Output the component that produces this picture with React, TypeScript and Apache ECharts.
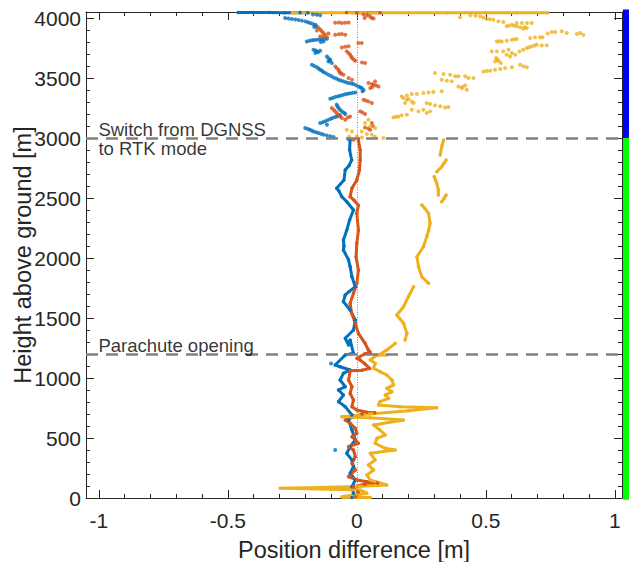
import React, { useEffect, useRef } from 'react';
import * as echarts from 'echarts';

// ---------- axes ----------
const X_MIN = -1.05;
const X_MAX = 1.028;
const Y_MIN = 0;
const Y_MAX = 4050;
const X_TICKS = [-1, -0.5, 0, 0.5, 1];
const X_MINOR = [-0.9, -0.8, -0.7, -0.6, -0.4, -0.3, -0.2, -0.1, 0.1, 0.2, 0.3, 0.4, 0.6, 0.7, 0.8, 0.9];
const Y_TICKS = [0, 500, 1000, 1500, 2000, 2500, 3000, 3500, 4000];
const Y_MINOR = [100, 200, 300, 400, 600, 700, 800, 900, 1100, 1200, 1300, 1400, 1600, 1700, 1800, 1900,
  2100, 2200, 2300, 2400, 2600, 2700, 2800, 2900, 3100, 3200, 3300, 3400, 3600, 3700, 3800, 3900];

// ---------- events / mode bar ----------
const EVENT_HEIGHTS = [3000, 1200];
const EVENT_LABELS = ['Switch from DGNSS\nto RTK mode', 'Parachute opening'];
const MODE_BOUNDS = [[3000, 4070], [-15, 3000]]; // DGNSS, RTK

// ---------- series: dense trails (segments) [x, height] ----------
const BLUE_TRAIL: number[][][] = [
  [[-0.46, 4046], [-0.40, 4045], [-0.34, 4046], [-0.28, 4044], [-0.22, 4045], [-0.19, 4043]],
  [[-0.032, 2990], [-0.026, 2983], [-0.028, 2900], [-0.02, 2817], [-0.03, 2770], [-0.045, 2733], [-0.05, 2650],
   [-0.078, 2581], [-0.07, 2560], [-0.058, 2511], [-0.039, 2469], [-0.013, 2400], [-0.028, 2317], [-0.039, 2233],
   [-0.052, 2150], [-0.05, 2100], [-0.052, 2067], [-0.032, 1983], [-0.026, 1928], [-0.019, 1844], [-0.006, 1761],
   [-0.03, 1720], [-0.045, 1692], [-0.052, 1636], [-0.026, 1567], [-0.006, 1483], [-0.013, 1400], [-0.045, 1331],
   [-0.032, 1275], [-0.026, 1317], [-0.013, 1206], [-0.045, 1192], [-0.084, 1108], [-0.065, 1094], [-0.026, 1067],
   [-0.052, 1039], [-0.065, 983], [-0.045, 928], [-0.071, 900], [-0.052, 858], [-0.071, 803], [-0.045, 761],
   [-0.019, 692], [-0.032, 650], [-0.019, 567], [-0.006, 483], [-0.026, 428], [-0.039, 372], [-0.019, 317],
   [-0.013, 261], [-0.026, 206], [-0.006, 150], [-0.019, 94], [-0.013, 39], [-0.019, 5]],
];
const RED_TRAIL: number[][][] = [
  [[-0.04, 4045], [0.0, 4044], [0.05, 4045], [0.09, 4044]],
  [[0.006, 2995], [0.006, 2983], [0.013, 2900], [0.013, 2817], [0.01, 2733], [0.0, 2650], [-0.019, 2581],
   [-0.026, 2511], [-0.01, 2480], [0.006, 2440], [0.0, 2372], [0.006, 2233], [0.0, 2122], [-0.003, 2011],
   [0.006, 1900], [0.0, 1789], [-0.013, 1706], [-0.026, 1622], [-0.02, 1540], [-0.006, 1456], [0.006, 1372],
   [0.032, 1289], [0.045, 1233], [0.052, 1215], [0.03, 1200], [0.0, 1164], [0.013, 1150], [0.03, 1120],
   [0.05, 1080], [0.02, 1065], [-0.026, 1060], [-0.032, 983], [-0.019, 928], [-0.026, 872], [-0.013, 817],
   [-0.019, 761], [0.0, 733], [0.039, 715], [0.07, 710], [0.02, 700], [-0.045, 650], [-0.026, 622], [-0.006, 581],
   [0.0, 539], [-0.019, 511], [-0.006, 483], [0.006, 456], [-0.032, 428], [-0.013, 400], [-0.006, 344],
   [-0.019, 289], [-0.006, 233], [-0.032, 178], [0.0, 150], [0.039, 136], [0.08, 125], [0.03, 115], [-0.013, 94],
   [0.006, 53], [-0.006, 11]],
];
const YELLOW_TRAIL: number[][][] = [
  [[-0.25, 4043], [-0.1, 4044], [0.05, 4043], [0.2, 4044], [0.35, 4043], [0.5, 4044], [0.62, 4043], [0.74, 4044]],
  [[0.336, 2983], [0.332, 2950], [0.329, 2928], [0.323, 2858]],
  [[0.346, 2817], [0.338, 2790], [0.329, 2761], [0.31, 2719]],
  [[0.3, 2678], [0.305, 2650], [0.31, 2622], [0.316, 2567], [0.316, 2525]],
  [[0.346, 2525], [0.338, 2495], [0.329, 2469]],
  [[0.252, 2442], [0.265, 2410], [0.278, 2372], [0.284, 2289], [0.278, 2230], [0.271, 2178], [0.258, 2094],
   [0.233, 2011], [0.239, 1928], [0.252, 1844], [0.278, 1789]],
  [[0.22, 1760], [0.2, 1678], [0.181, 1594], [0.155, 1525], [0.181, 1456], [0.194, 1372], [0.187, 1317]],
  [[0.149, 1289], [0.116, 1233], [0.084, 1192], [0.116, 1192], [0.078, 1192], [0.052, 1150], [0.071, 1122],
   [0.065, 1081], [0.09, 1053], [0.116, 1025], [0.136, 983], [0.142, 942], [0.116, 914], [0.136, 886],
   [0.11, 858], [0.123, 831], [0.09, 803], [0.084, 775], [0.168, 761], [0.31, 752], [0.2, 728], [0.05, 700],
   [-0.058, 678], [0.05, 668], [0.181, 650], [0.065, 608], [0.09, 567], [0.11, 525], [0.078, 497],
   [0.071, 456], [0.11, 414], [0.149, 400], [0.052, 372], [0.071, 317], [0.045, 275], [0.065, 233],
   [0.039, 192], [0.052, 150], [0.116, 108], [0.0, 95], [-0.15, 88], [-0.297, 81], [-0.1, 72], [0.013, 67],
   [0.039, 39], [-0.058, 11], [0.052, 5], [-0.05, 2]],
];

// ---------- series: sparse points above 3000 m [x, height] ----------
const BLUE_DOTS = [
  [-0.278, 4000], [-0.265, 3996], [-0.252, 3991], [-0.239, 3987], [-0.226, 3983], [-0.213, 3978], [-0.2, 3972],
  [-0.19, 3965], [-0.181, 3958], [-0.171, 3951], [-0.161, 3944], [-0.155, 3930], [-0.165, 3925],
  [-0.155, 4027], [-0.142, 4022], [-0.17, 4030],
  [-0.194, 3805], [-0.184, 3810], [-0.174, 3814], [-0.165, 3816], [-0.155, 3819], [-0.145, 3822], [-0.136, 3825],
  [-0.126, 3826], [-0.116, 3827], [-0.129, 3805], [-0.14, 3800],
  [-0.168, 3736], [-0.16, 3730], [-0.155, 3722], [-0.142, 3727], [-0.161, 3708], [-0.15, 3715],
  [-0.116, 3680], [-0.11, 3665], [-0.103, 3652], [-0.11, 3638], [-0.097, 3625], [-0.105, 3645],
  [-0.174, 3611], [-0.165, 3600], [-0.155, 3589], [-0.148, 3580], [-0.142, 3569], [-0.135, 3560], [-0.129, 3550],
  [-0.12, 3540], [-0.11, 3527], [-0.1, 3516], [-0.09, 3505], [-0.08, 3495], [-0.071, 3486], [-0.062, 3479],
  [-0.052, 3472], [-0.042, 3465], [-0.032, 3458], [-0.022, 3454], [-0.013, 3450], [-0.003, 3440], [0.006, 3430],
  [0.013, 3422], [0.019, 3416], [0.026, 3400], [0.022, 3389],
  [-0.103, 3327], [-0.094, 3334], [-0.084, 3341], [-0.074, 3347], [-0.065, 3352], [-0.055, 3358], [-0.045, 3364],
  [-0.035, 3368], [-0.026, 3372], [-0.016, 3376], [-0.006, 3380],
  [-0.078, 3278], [-0.075, 3264], [-0.071, 3250], [-0.065, 3236], [-0.058, 3222], [-0.05, 3210], [-0.045, 3200],
  [-0.142, 3125], [-0.132, 3132], [-0.123, 3139], [-0.113, 3149], [-0.103, 3158], [-0.094, 3166], [-0.084, 3175],
  [-0.075, 3182], [-0.065, 3189], [-0.116, 3111],
  [-0.2, 3083], [-0.19, 3076], [-0.183, 3069], [-0.175, 3062], [-0.168, 3055], [-0.158, 3048], [-0.149, 3041],
  [-0.139, 3035], [-0.129, 3028], [-0.116, 3021], [-0.103, 3014], [-0.09, 3008],
  [-0.084, 400], [-0.1, 1120],
];
const RED_DOTS = [
  [0.026, 4030], [0.04, 4020], [0.052, 4010], [0.058, 4000], [0.065, 3995], [0.045, 4035], [0.03, 4000],
  [-0.084, 3960], [-0.07, 3962], [-0.058, 3958], [-0.045, 3960], [-0.032, 3963],
  [-0.149, 3916], [-0.142, 3905], [-0.136, 3889], [-0.13, 3875], [-0.123, 3861], [-0.116, 3839], [-0.142, 3847],
  [-0.13, 3850], [-0.155, 3895], [-0.11, 3870],
  [-0.084, 3861], [-0.07, 3864], [-0.058, 3866], [-0.045, 3861],
  [-0.058, 3755], [-0.045, 3760], [-0.032, 3764], [0.006, 3792], [0.019, 3792],
  [-0.039, 3722], [-0.032, 3708], [-0.026, 3694], [-0.022, 3680], [-0.019, 3666], [-0.012, 3655], [-0.006, 3644],
  [0.032, 3625], [0.02, 3630],
  [-0.084, 3597], [-0.078, 3583], [-0.071, 3569], [-0.068, 3555], [-0.065, 3541], [-0.052, 3527], [-0.06, 3535],
  [-0.032, 3500], [-0.019, 3486],
  [0.045, 3458], [0.058, 3450], [0.065, 3444], [0.075, 3437], [0.084, 3430], [0.052, 3416], [0.071, 3472], [0.06, 3425],
  [0.026, 3319], [0.035, 3312], [0.045, 3305], [0.058, 3291],
  [-0.097, 3250], [-0.09, 3236], [-0.084, 3222], [-0.078, 3208], [-0.071, 3194], [-0.065, 3180], [-0.058, 3166],
  [-0.045, 3152], [-0.026, 3180], [-0.035, 3170],
  [0.013, 3222], [0.022, 3212], [0.032, 3200],
  [0.032, 3088], [0.045, 3078], [0.052, 3069], [0.058, 3125], [0.062, 3100],
  [-0.013, 2986],
];
const YELLOW_DOTS = [
  [0.40, 4006], [0.44, 4022], [0.46, 4018], [0.478, 4014], [0.49, 4004], [0.503, 3994], [0.515, 3990], [0.529, 3986],
  [0.549, 3972], [0.568, 3967],
  [0.581, 3931], [0.59, 3938], [0.601, 3944], [0.61, 3935], [0.62, 3931], [0.633, 3922], [0.646, 3911], [0.659, 3917],
  [0.678, 3958], [0.62, 3958], [0.64, 3958], [0.66, 3958], [0.65, 3925],
  [0.756, 3883], [0.769, 3883], [0.795, 3889], [0.814, 3875], [0.853, 3866], [0.866, 3875], [0.878, 3861], [0.74, 3870],
  [0.543, 3805], [0.552, 3806], [0.562, 3805], [0.581, 3811], [0.601, 3819], [0.61, 3822], [0.62, 3825],
  [0.659, 3750], [0.668, 3757], [0.678, 3764], [0.69, 3770], [0.698, 3778], [0.717, 3772], [0.736, 3772],
  [0.672, 3833], [0.691, 3839], [0.71, 3839], [0.72, 3839],
  [0.523, 3722], [0.543, 3722], [0.568, 3722], [0.588, 3736], [0.601, 3708], [0.614, 3694], [0.581, 3694],
  [0.594, 3680], [0.63, 3720], [0.645, 3735],
  [0.54, 3666], [0.549, 3644], [0.558, 3625], [0.536, 3638], [0.545, 3655],
  [0.633, 3611], [0.646, 3597], [0.659, 3589],
  [0.491, 3555], [0.504, 3558], [0.517, 3561], [0.536, 3569], [0.556, 3575], [0.575, 3583], [0.601, 3589],
  [0.303, 3541], [0.336, 3533], [0.362, 3527], [0.381, 3514],
  [0.329, 3486], [0.349, 3478], [0.368, 3472],
  [0.394, 3514], [0.42, 3514], [0.433, 3500], [0.452, 3500],
  [0.394, 3430], [0.407, 3416], [0.42, 3438], [0.426, 3402], [0.41, 3425],
  [0.174, 3347], [0.194, 3355], [0.213, 3366], [0.233, 3366], [0.258, 3375], [0.278, 3380], [0.297, 3383], [0.329, 3389],
  [0.18, 3333], [0.194, 3319], [0.213, 3305], [0.187, 3291], [0.22, 3291], [0.2, 3325],
  [0.271, 3291], [0.284, 3283], [0.303, 3272], [0.323, 3264], [0.342, 3255], [0.355, 3258],
  [0.213, 3236], [0.239, 3222], [0.258, 3236], [0.271, 3208], [0.284, 3222],
  [0.142, 3172], [0.152, 3176], [0.161, 3180], [0.174, 3189], [0.194, 3194],
  [0.045, 3152], [0.032, 3125], [0.052, 3097], [0.071, 3083], [0.019, 3055], [0.039, 3033], [-0.019, 3055],
  [-0.039, 3069], [0.0, 3014], [0.058, 3028], [0.103, 3000], [0.02, 3005], [-0.03, 3010], [0.07, 3010],
];

const BLUE = '#0072BD';
const RED = '#D95319';
const YELLOW = '#EDB120';
const AXIS = '#262626';
const FONT = '"Liberation Sans", Arial, Helvetica, sans-serif';

function joinSegments(segs: number[][][]) {
  const out: (number[] | null)[] = [];
  segs.forEach((s, i) => {
    if (i > 0) out.push(null);
    s.forEach((p) => out.push(p));
  });
  return out;
}

function trail(data: number[][][], color: string, width: number) {
  return {
    type: 'line', data: joinSegments(data), xAxisIndex: 0, yAxisIndex: 0,
    showSymbol: true, showAllSymbol: true, symbol: 'circle', symbolSize: 3.5,
    itemStyle: { color }, lineStyle: { color, width }, connectNulls: false, silent: true, z: 2,
  };
}
function dots(data: number[][], color: string) {
  return {
    type: 'scatter', data, xAxisIndex: 0, yAxisIndex: 0, symbolSize: 4,
    itemStyle: { color }, silent: true, z: 2,
  };
}

const fmt = (v: number) => String(v);

function xAxisDef(position: 'bottom' | 'top', ticks: number[], len: number, main: boolean, label: boolean) {
  return {
    type: 'value', position, min: X_MIN, max: X_MAX,
    splitLine: { show: false },
    axisLine: { show: main, onZero: false, lineStyle: { color: AXIS, width: 1 } },
    axisTick: { show: true, inside: true, length: len, customValues: ticks, lineStyle: { color: AXIS, width: 1 } },
    axisLabel: label
      ? { show: true, customValues: ticks, formatter: fmt, fontSize: 21, color: AXIS, margin: 12, fontFamily: FONT }
      : { show: false },
    ...(label ? {
      name: 'Position difference [m]', nameLocation: 'middle', nameGap: 40, nameMoveOverlap: false,
      nameTextStyle: { fontSize: 23.5, color: AXIS, fontFamily: FONT },
    } : {}),
  };
}
function yAxisDef(position: 'left' | 'right', ticks: number[], len: number, main: boolean, label: boolean) {
  return {
    type: 'value', position, min: Y_MIN, max: Y_MAX,
    splitLine: { show: false },
    axisLine: { show: main, onZero: false, lineStyle: { color: AXIS, width: 1 } },
    axisTick: { show: true, inside: true, length: len, customValues: ticks, lineStyle: { color: AXIS, width: 1 } },
    axisLabel: label
      ? { show: true, customValues: ticks, formatter: fmt, fontSize: 21, color: AXIS, margin: 5, fontFamily: FONT }
      : { show: false },
    ...(label ? {
      name: 'Height above ground [m]', nameLocation: 'middle', nameGap: 51, nameMoveOverlap: false,
      nameTextStyle: { fontSize: 23.5, color: AXIS, fontFamily: FONT },
    } : {}),
  };
}

export default function App() {
  const ref = useRef<HTMLDivElement>(null);
  useEffect(() => {
    if (!ref.current) return;
    const chart = echarts.init(ref.current, undefined, { renderer: 'svg' });
    const option: any = {
      animation: false,
      backgroundColor: '#ffffff',
      textStyle: { fontFamily: FONT },
      grid: { left: 86, right: 7, top: 12, bottom: 64, containLabel: false, outerBoundsMode: 'none' },
      xAxis: [
        xAxisDef('bottom', X_TICKS, 8, true, true),
        xAxisDef('bottom', X_MINOR, 4, false, false),
        xAxisDef('top', X_TICKS, 8, true, false),
        xAxisDef('top', X_MINOR, 4, false, false),
      ],
      yAxis: [
        yAxisDef('left', Y_TICKS, 8, true, true),
        yAxisDef('left', Y_MINOR, 4, false, false),
        yAxisDef('right', Y_TICKS, 8, true, false),
        yAxisDef('right', Y_MINOR, 4, false, false),
      ],
      series: [
        trail(BLUE_TRAIL, BLUE, 3),
        dots(BLUE_DOTS, BLUE),
        trail(RED_TRAIL, RED, 3),
        dots(RED_DOTS, RED),
        trail(YELLOW_TRAIL, YELLOW, 3),
        dots(YELLOW_DOTS, YELLOW),
        {
          type: 'scatter', xAxisIndex: 0, yAxisIndex: 0, symbolSize: 1, silent: true, z: 5,
          itemStyle: { color: 'transparent' },
          data: EVENT_HEIGHTS.map((h, i) => ({
            value: [X_TICKS[0], h],
            label: {
              show: true, formatter: EVENT_LABELS[i], position: [0, 0], align: 'left',
              verticalAlign: i === 0 ? 'middle' : 'bottom', offset: [0, 1],
              fontSize: 18.5, lineHeight: 19, color: '#000000', fontFamily: FONT,
            },
          })),
          markLine: {
            silent: true, symbol: ['none', 'none'], label: { show: false },
            data: [
              ...EVENT_HEIGHTS.map((h) => ({
                yAxis: h, lineStyle: { color: '#808080', width: 2.5, type: [12, 8] },
              })),
              { xAxis: 0, lineStyle: { color: '#8a8a8a', width: 1, type: [1, 1.5] } },
            ],
          },
        },
      ],
    };
    chart.setOption(option);
    const xr = chart.convertToPixel({ xAxisIndex: 0 }, X_MAX) as number;
    const MODE_COLORS = ['#0000FF', '#00FF00'];
    const rects = MODE_BOUNDS.map((b, i) => {
      const yTop = chart.convertToPixel({ yAxisIndex: 0 }, b[1]) as number;
      const yBot = chart.convertToPixel({ yAxisIndex: 0 }, b[0]) as number;
      return {
        type: 'rect', silent: true, z: 10,
        shape: { x: xr + 1, y: yTop, width: 7, height: yBot - yTop },
        style: { fill: MODE_COLORS[i] },
      };
    });
    chart.setOption({ graphic: rects });
    return () => chart.dispose();
  }, []);
  return (
    <div
      ref={ref}
      style={{ position: 'fixed', left: 0, top: 0, width: 629, height: 562, background: '#fff' }}
    />
  );
}
